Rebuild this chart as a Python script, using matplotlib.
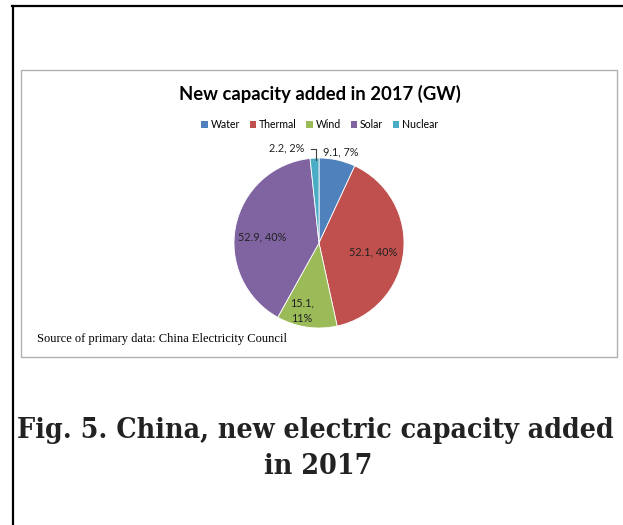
import numpy as np
import matplotlib.pyplot as plt
from matplotlib.patches import Rectangle
from matplotlib.lines import Line2D

# data
sources = ["Water", "Thermal", "Wind", "Solar", "Nuclear"]
capacity_gw = [9.1, 52.1, 15.1, 52.9, 2.2]
share_labels = ["9.1, 7%", "52.1, 40%", "15.1,\n11%", "52.9, 40%", "2.2, 2%"]
colors = ["#4F81BD", "#C0504D", "#9BBB59", "#8064A2", "#4BACC6"]

W, H = 623, 525
fig = plt.figure(figsize=(W / 100, H / 100), dpi=100)
fig.patch.set_facecolor("white")

def fx(px):
    return px / W

def fy(py):
    return 1 - py / H

# page frame (black lines top and left)
fig.add_artist(Line2D([fx(12), 1.0], [fy(6), fy(6)], color="black", lw=1.6))
fig.add_artist(Line2D([fx(12.5), fx(12.5)], [fy(6), 0.0], color="black", lw=1.6))

# chart box
fig.add_artist(Rectangle((fx(21), fy(357)), fx(617) - fx(21), fy(70) - fy(357),
                         fill=False, edgecolor="#b0b0b0", lw=1.0))

# pie axes
cx, cy, r = 319, 243, 85
ax = fig.add_axes([fx(cx - r), fy(cy + r), 2 * r / W, 2 * r / H])
wedges, _ = ax.pie(capacity_gw, colors=colors, startangle=90, counterclock=False,
                   wedgeprops=dict(edgecolor="white", linewidth=0.6))
ax.set_xlim(-1, 1)
ax.set_ylim(-1, 1)
ax.set_aspect("auto")
ax.axis("off")

# label placement: radius fraction and angle tweak per wedge
label_r = [1.10, 0.65, 0.82, 0.67, 1.18]
label_dang = [-1, -3, -6, 5, 16]
for w, lab, rr, da in zip(wedges, share_labels, label_r, label_dang):
    ang = np.deg2rad((w.theta1 + w.theta2) / 2 + da)
    ax.text(rr * np.cos(ang), rr * np.sin(ang), lab, ha="center", va="center",
            fontsize=7.8, family="Lato", color="#222222", linespacing=1.5,
            clip_on=False)

# leader line for the nuclear label
ax.plot([-0.1, -0.04, -0.04], [1.11, 1.11, 0.98], color="#404040", lw=0.8, clip_on=False)

# title and legend
fig.text(fx(320), fy(94), "New capacity added in 2017 (GW)", ha="center", va="center",
         fontsize=13.3, fontweight="bold", family="Lato", color="black")
handles = [Rectangle((0, 0), 1, 1, facecolor=c, edgecolor="none") for c in colors]
fig.legend(handles, sources, loc="center", bbox_to_anchor=(fx(320), fy(125)),
           ncol=5, frameon=False, handlelength=0.6, handleheight=0.6,
           handletextpad=0.3, columnspacing=0.9, prop={"family": "Lato", "size": 7.6})

# source note
fig.text(fx(37), fy(339), "Source of primary data: China Electricity Council",
         ha="left", va="center", fontsize=9.0, family="Liberation Serif", color="black")

# figure caption
cap_kw = dict(ha="center", va="center", fontsize=20.4, fontweight="bold",
              family="DejaVu Serif", fontstretch="condensed", color="#222222")
fig.text(fx(315), fy(430), "Fig. 5. China, new electric capacity added", **cap_kw)
fig.text(fx(318), fy(466), "in 2017", **cap_kw)

fig.savefig("out.png", dpi=100)
